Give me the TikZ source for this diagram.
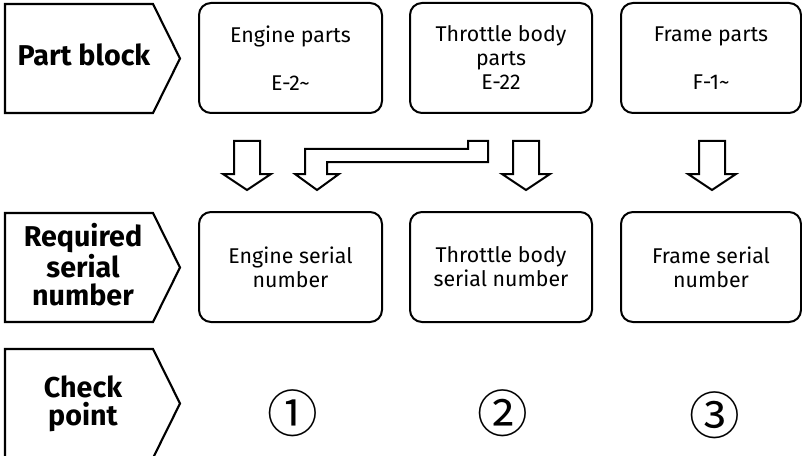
\documentclass[tikz,border=0pt]{standalone}
\usepackage{fontspec}
\setmainfont{Fira Sans}
\newfontfamily\circfont{Noto Sans CJK JP}
\begin{document}
\begin{tikzpicture}[x=0.75pt,y=-0.75pt, line width=1.5pt]
\useasboundingbox (0,0) rectangle (802,456);
\tikzset{
  box/.style={draw, rounded corners=9pt, minimum height=82.5pt, align=center,
    font=\fontsize{16}{18}\selectfont, inner sep=0pt},
  lab/.style={align=center, inner sep=0pt, font=\fontsize{21.5}{21}\selectfont\bfseries},
  pent/.style={draw, line width=1.6pt},
  blk/.style={draw, line width=1.5pt, line join=miter},
  num/.style={inner sep=0pt, font=\circfont\fontsize{38}{38}\selectfont}
}
% row labels
\draw[pent] (5,4) -- (153,4) -- (180,58.5) -- (153,113) -- (5,113) -- cycle;
\draw[pent] (5,213) -- (153,213) -- (180,267.5) -- (153,322) -- (5,322) -- cycle;
\draw[pent] (5,349) -- (153,349) -- (180,403.5) -- (153,458) -- (5,458) -- cycle;
\node[lab] (lpart) at (84,55) {Part block};
\node[lab] (lreq) at (83,265) {Required\\serial\\number};
\node[lab] (lchk) at (83,404) {Check\\point};
% top boxes
\node[box, minimum width=137.25pt] (engp) at (290.5,58) {Engine parts\\\mbox{}\\E-2\textasciitilde};
\node[box, minimum width=136.5pt] (thrp) at (501,58) {Throttle body\\parts\\E-22};
\node[box, minimum width=135pt] (frmp) at (711,58) {Frame parts\\\mbox{}\\F-1\textasciitilde};
% second row boxes
\node[box, minimum width=137.25pt] (engs) at (290.5,267) {Engine serial\\number};
\node[box, minimum width=136.5pt] (thrs) at (501,267) {Throttle body\\serial number};
\node[box, minimum width=135pt] (frms) at (711,267) {Frame serial\\number};
% block arrows
\draw[blk] (234,141) -- (260,141) -- (260,174) -- (271,174) -- (247,190) -- (223,174) -- (234,174) -- cycle;
\draw[blk] (513,141) -- (539,141) -- (539,174) -- (550,174) -- (526,190) -- (502,174) -- (513,174) -- cycle;
\draw[blk] (699,141) -- (725,141) -- (725,174) -- (736,174) -- (712,190) -- (688,174) -- (699,174) -- cycle;
\draw[blk] (488,141) -- (468,141) -- (468,149) -- (305,149) -- (305,174) -- (295,174) -- (317,190) -- (339,174) -- (327,174) -- (327,162) -- (488,162) -- cycle;
% check points
\node[num] (c1) at (293,413) {①};
\node[num] (c2) at (503,413) {②};
\node[num] (c3) at (715,415) {③};
\end{tikzpicture}
\end{document}
